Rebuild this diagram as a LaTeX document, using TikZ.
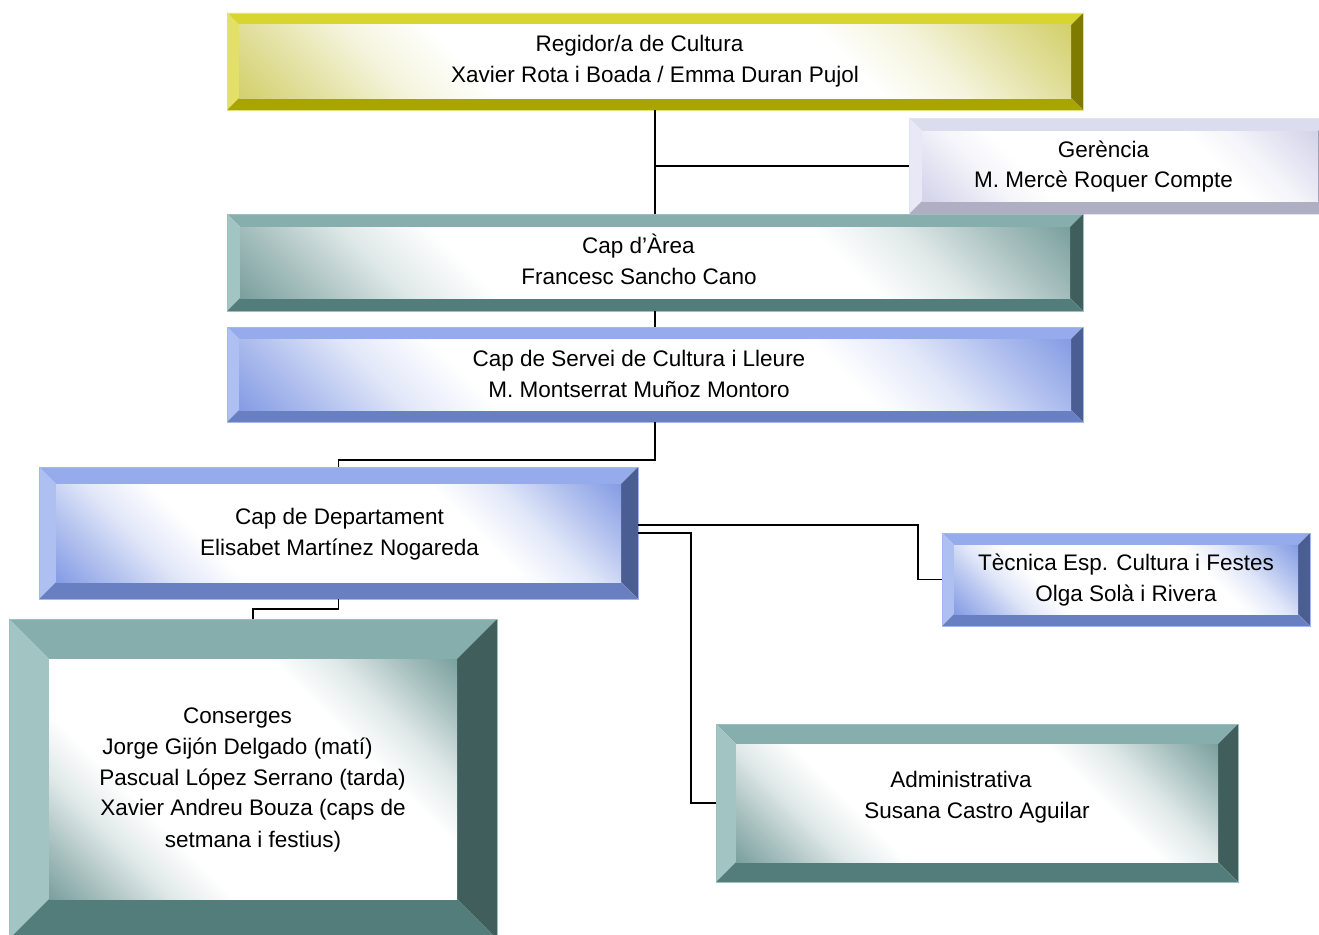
\documentclass[tikz,border=0pt]{standalone}
\usepackage{fontspec}
\setmainfont{Liberation Sans}
\usetikzlibrary{calc}
% yellow
\definecolor{yT}{HTML}{D8D530}\definecolor{yL}{HTML}{E2E068}\definecolor{yB}{HTML}{A8A400}
\definecolor{yR}{HTML}{7F7B00}\definecolor{yI}{HTML}{CFCC60}\definecolor{yE}{HTML}{E4E27A}
% teal
\definecolor{tT}{HTML}{86AEAC}\definecolor{tL}{HTML}{A2C4C2}\definecolor{tB}{HTML}{537D7B}
\definecolor{tR}{HTML}{3F5E5C}\definecolor{tI}{HTML}{6F9896}\definecolor{tE}{HTML}{9DBFBD}
% blue
\definecolor{bT}{HTML}{95ABEB}\definecolor{bL}{HTML}{AEC0F1}\definecolor{bB}{HTML}{6880C1}
\definecolor{bR}{HTML}{4B5E94}\definecolor{bI}{HTML}{7A94E2}\definecolor{bE}{HTML}{A3B7F1}
% lavender
\definecolor{lT}{HTML}{DCDCEF}\definecolor{lL}{HTML}{E8E8F6}\definecolor{lB}{HTML}{B0AEC3}
\definecolor{lR}{HTML}{9C9AAF}\definecolor{lI}{HTML}{CFCFE8}\definecolor{lE}{HTML}{E2E2F2}
\colorlet{bevc}{white}\colorlet{bevm}{white}\colorlet{bevn}{white}
\pgfdeclareverticalshading[bevc,bevm,bevn]{bevshade}{100bp}{color(0bp)=(bevc); color(13bp)=(bevc); color(21bp)=(bevm); color(28bp)=(bevn); color(35bp)=(white); color(65bp)=(white); color(72bp)=(bevn); color(79bp)=(bevm); color(87bp)=(bevc); color(100bp)=(bevc)}
\newcommand\bevbox[7]{%
  \node[inner sep=0pt,outer sep=0pt,minimum width={(#4-#2)*1pt},minimum height={(#5-#3)*1pt}] (#1) at ({(#2+#4)/2},{(#3+#5)/2}) {};
  \fill[#7T] (#2,#3) -- (#4,#3) -- ({#4-#6},{#3+#6}) -- ({#2+#6},{#3+#6}) -- cycle;
  \fill[#7L] (#2,#3) -- ({#2+#6},{#3+#6}) -- ({#2+#6},{#5-#6}) -- (#2,#5) -- cycle;
  \fill[#7R] (#4,#3) -- (#4,#5) -- ({#4-#6},{#5-#6}) -- ({#4-#6},{#3+#6}) -- cycle;
  \fill[#7B] (#2,#5) -- (#4,#5) -- ({#4-#6},{#5-#6}) -- ({#2+#6},{#5-#6}) -- cycle;
  \colorlet{bevc}{#7I}\colorlet{bevm}{#7I!60!white}\colorlet{bevn}{#7I!22!white}%
  \shade[shading=bevshade,shading angle=-45] ({#2+#6},{#3+#6}) rectangle ({#4-#6},{#5-#6});
  \draw[#7E,line width=0.8pt] (#2,#3) rectangle (#4,#5);
}
\tikzset{
  txt/.style={anchor=base,inner sep=0pt,font=\fontsize{22.5}{27}\selectfont},
  conn/.style={draw=black,line width=1.7pt}
}
\begin{document}
\begin{tikzpicture}[x=1pt,y=-1pt]
\useasboundingbox (0,0) rectangle (1319,934);
\clip (0,0) rectangle (1319,934);
\fill[white] (0,0) rectangle (1319,934);
% boxes
\bevbox{r}{227}{13}{1083}{110}{12}{y}
\bevbox{g}{909}{118}{1331}{214}{13}{l}
\bevbox{a}{227}{214}{1083}{311}{13}{t}
\bevbox{s}{227}{327}{1083}{422}{12}{b}
\bevbox{d}{39}{467}{638}{599}{17}{b}
\bevbox{t}{942}{533}{1310}{626}{12}{b}
\bevbox{ad}{716}{724}{1238}{882}{20}{t}
\bevbox{c}{9}{619}{497}{939}{40}{t}
% connectors
\draw[conn] (r.south) -- (a.north);
\draw[conn] (g.west) -- (g.west -| r.south);
\draw[conn] (a.south) -- (s.north);
\draw[conn] (s.south) -- ++(0,38) -| (d.north);
\draw[conn] (d.south) -- ++(0,10) -| (c.north);
\draw[conn] ([yshift=8pt]d.east) -| ([xshift=-24pt]t.west) -- (t.west);
\draw[conn] (d.east) -| ([xshift=-25pt]ad.west) -- (ad.west);
% texts
\node[txt] (r1) at (639.5,52) {Regidor/a de Cultura};
\node[txt] (r2) at (655,82) {Xavier Rota i Boada / Emma Duran Pujol};
\node[txt] (g1) at (1103.5,157) {Gerència};
\node[txt] (g2) at (1103.5,187) {M. Mercè Roquer Compte};
\node[txt] (a1) at (638.5,253) {Cap d’Àrea};
\node[txt] (a2) at (639,284) {Francesc Sancho Cano};
\node[txt] (s1) at (639,366) {Cap de Servei de Cultura i Lleure};
\node[txt] (s2) at (639,397) {M. Montserrat Muñoz Montoro};
\node[txt] (d1) at (339.5,524) {Cap de Departament};
\node[txt] (d2) at (339.5,555) {Elisabet Martínez Nogareda};
\node[txt] (t1) at (1126,570) {Tècnica Esp. Cultura i Festes};
\node[txt] (t2) at (1126,601) {Olga Solà i Rivera};
\node[txt] (ad1) at (961,787) {Administrativa};
\node[txt] (ad2) at (977,818) {Susana Castro Aguilar};
\node[txt] (c1) at (237.5,723) {Conserges};
\node[txt] (c2) at (237.5,754) {Jorge Gijón Delgado (matí)};
\node[txt] (c3) at (252.5,785) {Pascual López Serrano (tarda)};
\node[txt] (c4) at (253,815) {Xavier Andreu Bouza (caps de};
\node[txt] (c5) at (253,847) {setmana i festius)};
\end{tikzpicture}
\end{document}
